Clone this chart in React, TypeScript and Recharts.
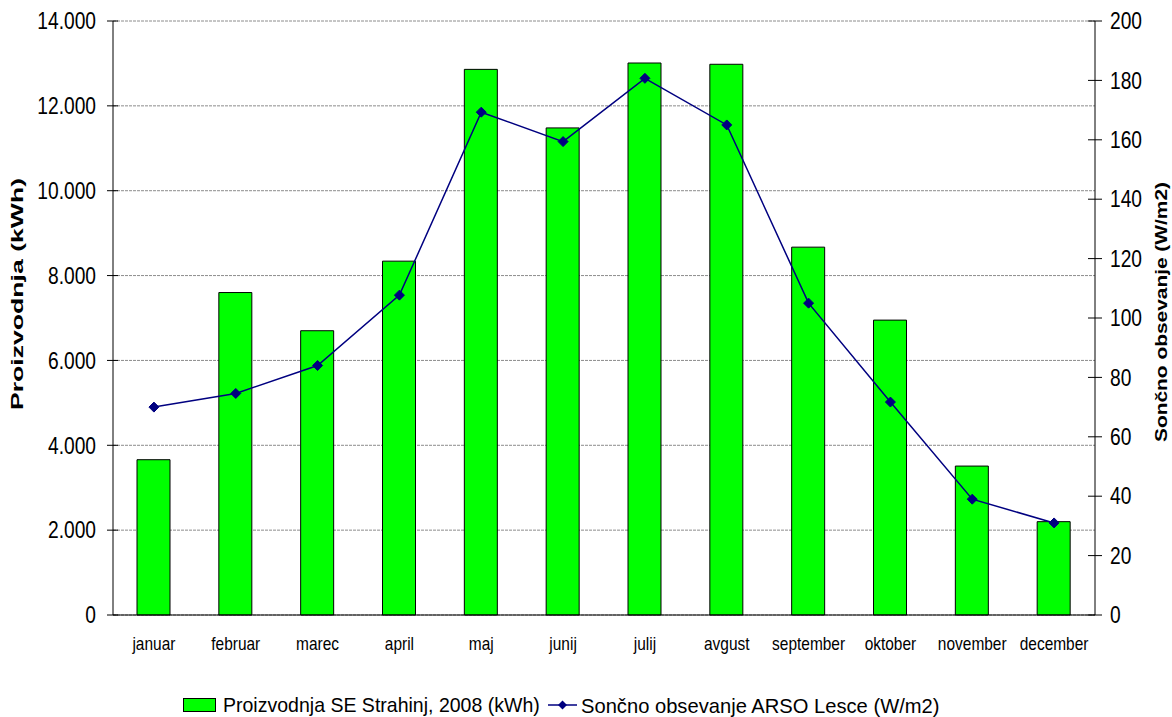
import React from 'react';
import {
  ComposedChart,
  Bar,
  Line,
  XAxis,
  YAxis,
  CartesianGrid,
  Legend,
} from 'recharts';

// Monthly figures for 2008
const months = [
  'januar', 'februar', 'marec', 'april', 'maj', 'junij',
  'julij', 'avgust', 'september', 'oktober', 'november', 'december',
];
const production = [3660, 7600, 6700, 8340, 12860, 11480, 13010, 12980, 8670, 6950, 3510, 2200];
const irradiance = [70, 74.6, 84, 107.7, 169.3, 159.4, 180.7, 165, 105, 71.7, 39, 31];

const leftTicks = [0, 2000, 4000, 6000, 8000, 10000, 12000, 14000];
const rightTicks = [0, 20, 40, 60, 80, 100, 120, 140, 160, 180, 200];
const boundaryTicks = [0, 1, 2, 3, 4, 5, 6, 7, 8, 9, 10, 11, 12];

const productionName = 'Proizvodnja SE Strahinj, 2008 (kWh)';
const irradianceName = 'Sončno obsevanje ARSO Lesce (W/m2)';
const leftTitle = 'Proizvodnja (kWh)';
const rightTitle = 'Sončno obsevanje (W/m2)';

const data = months.map((m, i) => ({
  month: m,
  production: production[i],
  irradiance: irradiance[i],
}));

const SANS = 'Liberation Sans, Arial, sans-serif';
const BAR_GREEN = '#00FF00';
const NAVY = '#000080';

const fmtThousands = (v: number) =>
  v === 0 ? '0' : `${Math.floor(v / 1000)}.${String(v % 1000).padStart(3, '0')}`;

// condensed text: glyphs squeezed horizontally around the anchor point
const NarrowText = ({ x, y, anchor, size, sx, children }: any) => (
  <g transform={`translate(${x},${y}) scale(${sx},1)`}>
    <text
      x={0}
      y={0}
      textAnchor={anchor}
      dominantBaseline="central"
      fontFamily={SANS}
      fontSize={size}
      fill="#000"
    >
      {children}
    </text>
  </g>
);

const LEFT_GAP = 17;
const RIGHT_GAP = 15;

const LeftTick = (props: any) => {
  const { x, y, payload } = props;
  const ax = x + LEFT_GAP;
  return (
    <g>
      <line x1={ax - 6} x2={ax + 5} y1={y} y2={y} stroke="#000" />
      <NarrowText x={x} y={y} anchor="end" size={24} sx={0.8}>
        {fmtThousands(payload.value)}
      </NarrowText>
    </g>
  );
};

const RightTick = (props: any) => {
  const { x, y, payload } = props;
  const ax = x - RIGHT_GAP;
  return (
    <g>
      <line x1={ax - 7} x2={ax + 7} y1={y} y2={y} stroke="#000" />
      <NarrowText x={x} y={y} anchor="start" size={24} sx={0.8}>
        {String(payload.value)}
      </NarrowText>
    </g>
  );
};

const MonthTick = (props: any) => {
  const { x, y, payload } = props;
  return (
    <NarrowText x={x} y={y + 29} anchor="middle" size={18} sx={0.86}>
      {payload.value}
    </NarrowText>
  );
};

const EdgeTick = (props: any) => {
  const { x, y } = props;
  return <line x1={x} x2={x} y1={y - 6} y2={y + 6} stroke="#000" />;
};

const Diamond = (props: any) => {
  const { cx, cy } = props;
  if (cx == null || cy == null) return null;
  const r = 5;
  return (
    <path
      d={`M${cx},${cy - r} L${cx + r},${cy} L${cx},${cy + r} L${cx - r},${cy} Z`}
      fill={NAVY}
      stroke={NAVY}
    />
  );
};

const LegendContent = () => (
  <svg width={1172} height={30} style={{ display: 'block' }}>
    <rect x={183.5} y={9.5} width={32} height={13} fill={BAR_GREEN} stroke="#000" />
    <NarrowText x={223} y={16} anchor="start" size={21} sx={0.93}>
      {productionName}
    </NarrowText>
    <line x1={548} x2={577} y1={16} y2={16} stroke={NAVY} strokeWidth={1.5} />
    <path d="M562.5,11.5 L567,16 L562.5,20.5 L558,16 Z" fill={NAVY} />
    <NarrowText x={581} y={16} anchor="start" size={21} sx={0.96}>
      {irradianceName}
    </NarrowText>
  </svg>
);

const VerticalTitle = ({ x, y, text, length }: { x: number; y: number; text: string; length: number }) => (
  <text
    x={x}
    y={y}
    transform={`rotate(-90 ${x} ${y})`}
    textAnchor="middle"
    dominantBaseline="central"
    fontFamily={SANS}
    fontWeight="bold"
    fontSize={16}
    textLength={length}
    lengthAdjust="spacingAndGlyphs"
    fill="#000"
  >
    {text}
  </text>
);

export default function App() {
  return (
    <div style={{ position: 'absolute', left: 0, top: 0, width: 1172, height: 717, background: '#fff' }}>
      <ComposedChart
        width={1172}
        height={717}
        data={data}
        margin={{ top: 21, right: 0, bottom: 20, left: 0 }}
        barSize={33}
      >
        <CartesianGrid
          yAxisId="left"
          xAxisId="cat"
          vertical={false}
          stroke="#8c8c8c"
          strokeDasharray="3 1"
        />
        <XAxis
          xAxisId="edges"
          type="number"
          domain={[0, 12]}
          ticks={boundaryTicks}
          height={0}
          axisLine={false}
          tickLine={false}
          tickSize={0}
          tickMargin={0}
          tick={<EdgeTick />}
          interval={0}
        />
        <XAxis
          xAxisId="cat"
          dataKey="month"
          height={52}
          axisLine={{ stroke: '#000' }}
          tickLine={false}
          tickSize={0}
          tickMargin={0}
          tick={<MonthTick />}
          interval={0}
        />
        <YAxis
          yAxisId="left"
          width={113}
          domain={[0, 14000]}
          ticks={leftTicks}
          interval={0}
          axisLine={{ stroke: '#000' }}
          tickLine={false}
          tickSize={0}
          tickMargin={LEFT_GAP}
          tick={<LeftTick />}
          label={{ content: () => <VerticalTitle x={17} y={294} text={leftTitle} length={232} /> }}
        />
        <YAxis
          yAxisId="right"
          orientation="right"
          width={77}
          domain={[0, 200]}
          ticks={rightTicks}
          interval={0}
          axisLine={{ stroke: '#000' }}
          tickLine={false}
          tickSize={0}
          tickMargin={RIGHT_GAP}
          tick={<RightTick />}
          label={{ content: () => <VerticalTitle x={1161} y={312} text={rightTitle} length={260} /> }}
        />
        <Bar
          xAxisId="cat"
          yAxisId="left"
          dataKey="production"
          name={productionName}
          fill={BAR_GREEN}
          stroke="#000"
          strokeWidth={1}
          isAnimationActive={false}
        />
        <Line
          xAxisId="cat"
          yAxisId="right"
          dataKey="irradiance"
          name={irradianceName}
          stroke={NAVY}
          strokeWidth={1.5}
          dot={<Diamond />}
          activeDot={false}
          isAnimationActive={false}
        />
        <Legend
          verticalAlign="bottom"
          height={28}
          content={<LegendContent />}
          wrapperStyle={{ position: 'absolute', top: 689, left: 0, width: 1172, height: 30 }}
        />
      </ComposedChart>
    </div>
  );
}
